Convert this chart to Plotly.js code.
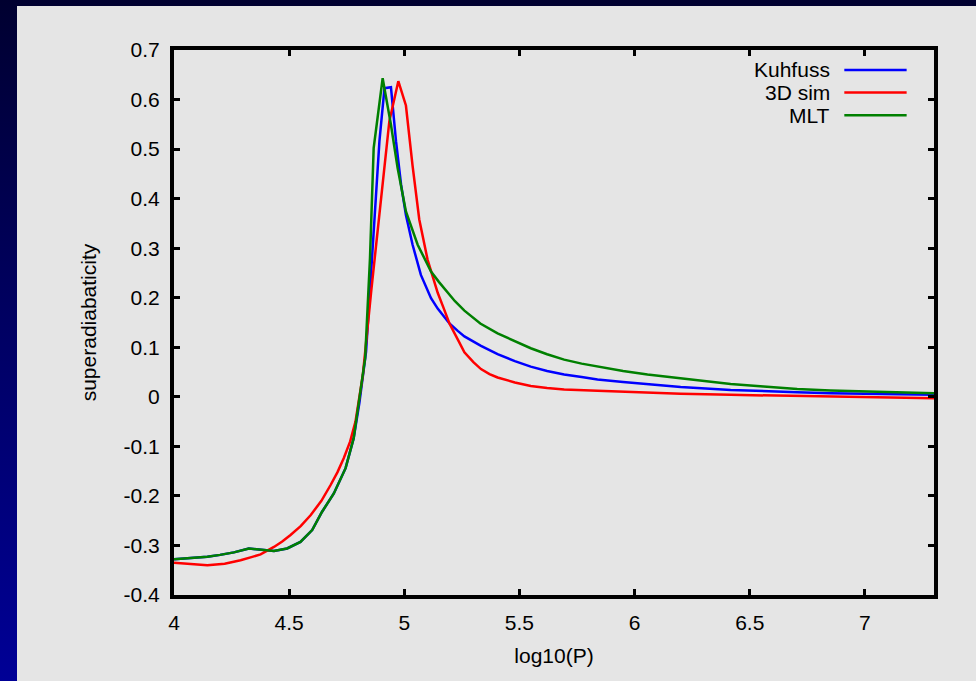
<!DOCTYPE html>
<html>
<head>
<meta charset="utf-8">
<script src="https://cdn.plot.ly/plotly-3.0.1.min.js"></script>
<style>
  html, body { margin: 0; padding: 0; width: 976px; height: 681px; overflow: hidden;
    background: linear-gradient(to bottom, #000030 0%, #000060 45%, #000096 100%); }
  #chart { position: absolute; left: 17px; top: 6px; width: 959px; height: 675px; }
</style>
</head>
<body>
<div id="chart"></div>
<script>
// Series names and colours
const seriesNames = ["Kuhfuss", "3D sim", "MLT"];
const seriesColors = ["#0000ff", "#ff0000", "#008000"];

// Kuhfuss
const kuhX = [4.0, 4.07, 4.145, 4.2, 4.26, 4.325, 4.376, 4.434, 4.491, 4.549, 4.60, 4.643, 4.694, 4.745, 4.78, 4.805, 4.834, 4.87, 4.892, 4.914, 4.942, 4.964, 4.986, 5.007, 5.036, 5.072, 5.116, 5.145, 5.174, 5.196, 5.232, 5.261, 5.333, 5.405, 5.48, 5.549, 5.62, 5.694, 5.77, 5.839, 5.95, 6.056, 6.2, 6.417, 6.56, 6.706, 6.85, 6.995, 7.15, 7.3];
const kuhY = [-0.328, -0.326, -0.323, -0.319, -0.314, -0.306, -0.309, -0.311, -0.306, -0.293, -0.269, -0.232, -0.195, -0.144, -0.084, -0.012, 0.091, 0.347, 0.516, 0.623, 0.625, 0.516, 0.428, 0.367, 0.307, 0.246, 0.199, 0.178, 0.162, 0.148, 0.133, 0.122, 0.103, 0.086, 0.072, 0.061, 0.052, 0.045, 0.040, 0.035, 0.030, 0.026, 0.020, 0.014, 0.011, 0.009, 0.007, 0.006, 0.005, 0.004];

// 3D simulation
const simX = [4.0, 4.07, 4.145, 4.22, 4.289, 4.34, 4.376, 4.434, 4.47, 4.506, 4.55, 4.593, 4.64, 4.68, 4.71, 4.737, 4.765, 4.788, 4.82, 4.856, 4.899, 4.935, 4.974, 5.007, 5.036, 5.065, 5.101, 5.123, 5.145, 5.17, 5.196, 5.232, 5.261, 5.30, 5.333, 5.37, 5.405, 5.48, 5.549, 5.62, 5.694, 5.839, 6.056, 6.2, 6.417, 6.706, 6.995, 7.3];
const simY = [-0.335, -0.338, -0.340, -0.337, -0.330, -0.323, -0.318, -0.303, -0.292, -0.279, -0.261, -0.239, -0.210, -0.178, -0.152, -0.124, -0.090, -0.050, 0.044, 0.212, 0.401, 0.556, 0.637, 0.588, 0.466, 0.358, 0.277, 0.244, 0.210, 0.180, 0.148, 0.116, 0.090, 0.070, 0.056, 0.046, 0.039, 0.029, 0.022, 0.018, 0.015, 0.012, 0.008, 0.006, 0.004, 0.002, 0.000, -0.003];

// MLT
const mltX = [4.0, 4.07, 4.145, 4.2, 4.26, 4.325, 4.376, 4.434, 4.491, 4.549, 4.60, 4.643, 4.694, 4.745, 4.78, 4.798, 4.83, 4.851, 4.86, 4.867, 4.906, 4.942, 4.971, 5.007, 5.058, 5.116, 5.15, 5.18, 5.22, 5.261, 5.33, 5.405, 5.48, 5.549, 5.62, 5.694, 5.77, 5.839, 5.95, 6.056, 6.2, 6.417, 6.56, 6.706, 6.85, 6.995, 7.15, 7.3];
const mltY = [-0.328, -0.326, -0.323, -0.319, -0.314, -0.306, -0.309, -0.311, -0.306, -0.293, -0.269, -0.232, -0.195, -0.144, -0.084, -0.023, 0.078, 0.280, 0.395, 0.502, 0.643, 0.549, 0.462, 0.374, 0.307, 0.253, 0.232, 0.215, 0.193, 0.174, 0.148, 0.128, 0.112, 0.098, 0.086, 0.075, 0.067, 0.061, 0.052, 0.045, 0.037, 0.026, 0.021, 0.016, 0.013, 0.011, 0.009, 0.007];

const xTickVals = [4, 4.5, 5, 5.5, 6, 6.5, 7];
const xTickText = ["4", "4.5", "5", "5.5", "6", "6.5", "7"];
const yTickVals = [-0.4, -0.3, -0.2, -0.1, 0, 0.1, 0.2, 0.3, 0.4, 0.5, 0.6, 0.7];
const yTickText = ["-0.4", "-0.3", "-0.2", "-0.1", "0", "0.1", "0.2", "0.3", "0.4", "0.5", "0.6", "0.7"];

const xs = [kuhX, simX, mltX];
const ys = [kuhY, simY, mltY];
const traces = seriesNames.map((n, i) => ({
  x: xs[i], y: ys[i], name: n, type: "scatter", mode: "lines",
  line: { color: seriesColors[i], width: 2.5 }, showlegend: false
}));

// Legend drawn gnuplot-style: text on the left, sample line on the right
const legY = [0.9635, 0.922, 0.8805];
const annotations = seriesNames.map((n, i) => ({
  xref: "paper", yref: "paper", x: 0.866, y: legY[i], xanchor: "right", yanchor: "middle",
  text: n, showarrow: false, font: { family: "Liberation Sans, Arial, sans-serif", size: 21, color: "#000" }
}));
const shapes = seriesNames.map((n, i) => ({
  type: "line", xref: "paper", yref: "paper", x0: 0.882, x1: 0.964, y0: legY[i], y1: legY[i],
  line: { color: seriesColors[i], width: 2.5 }
}));

const font = { family: "Liberation Sans, Arial, sans-serif", size: 21, color: "#000" };
const axisCommon = {
  showgrid: false, zeroline: false, showline: true, linecolor: "#000", linewidth: 4,
  mirror: "ticks", ticks: "inside", ticklen: 6, tickwidth: 3, tickcolor: "#000",
  tickfont: font, ticklabelstandoff: 6
};

const layout = {
  width: 959, height: 675,
  paper_bgcolor: "#e5e5e5", plot_bgcolor: "#e5e5e5",
  margin: { l: 157, r: 42, t: 44, b: 86 },
  font: font,
  xaxis: Object.assign({}, axisCommon, {
    range: [4, 7.3], tickvals: xTickVals, ticktext: xTickText,
    title: { text: "log10(P)", font: font, standoff: 16 }
  }),
  yaxis: Object.assign({}, axisCommon, {
    range: [-0.4, 0.7], tickvals: yTickVals, ticktext: yTickText,
    title: { text: "superadiabaticity", font: font, standoff: 22 }
  }),
  annotations: annotations,
  shapes: shapes
};

Plotly.newPlot("chart", traces, layout, { displayModeBar: false, staticPlot: true });
</script>
</body>
</html>
